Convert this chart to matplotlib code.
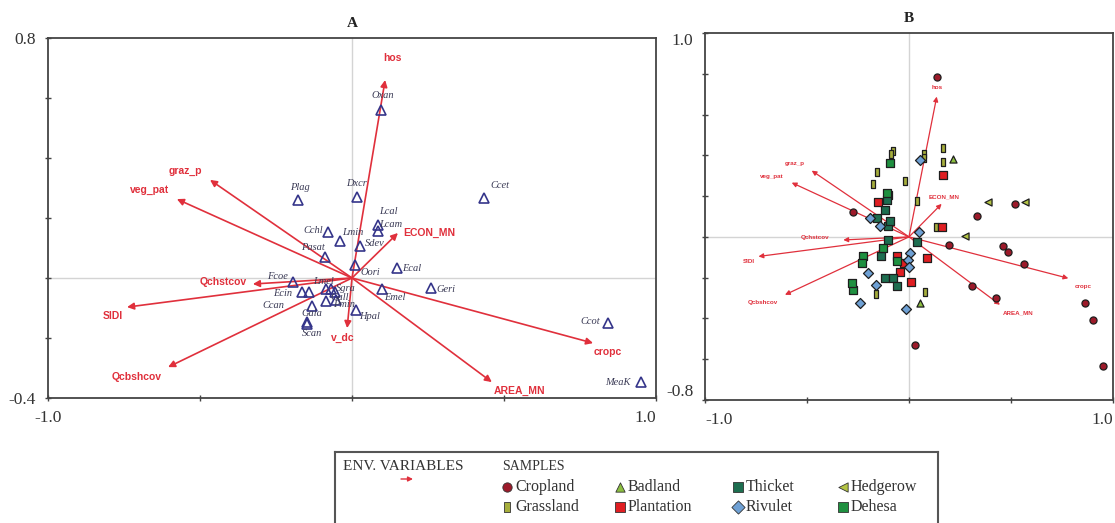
import matplotlib
matplotlib.use('Agg')
import matplotlib.pyplot as plt
from matplotlib.ticker import FixedLocator, FixedFormatter

# ---------------- Panel A data ----------------
envA_names = ['hos', 'graz_p', 'veg_pat', 'ECON_MN', 'Qchstcov', 'SIDI', 'Qcbshcov', 'cropc', 'AREA_MN', 'v_dc']
envA_x = [0.109, -0.467, -0.576, 0.151, -0.326, -0.740, -0.605, 0.793, 0.460, -0.016]
envA_y = [0.660, 0.327, 0.263, 0.150, -0.020, -0.097, -0.297, -0.217, -0.347, -0.167]

spA_names = ['Oxan', 'Dxcr', 'Plag', 'Ccet', 'Lcal', 'Lcam', 'Cchl', 'Lmin', 'Sdev', 'Pasat',
             'Ecal', 'Oori', 'Geri', 'Emel', 'Fcoe', 'Ecin', '', 'Lmel', 'Sgra', '',
             'Gall', 'Pmin', 'Hpal', 'Ccan', 'Gala', 'Scan', 'Ccot', 'MeaK']
spA_x = [0.095, 0.016, -0.178, 0.434, 0.086, 0.086, -0.079, -0.039, 0.026, -0.089,
         0.148, 0.010, 0.260, 0.099, -0.194, -0.164, -0.141, -0.086, -0.069, -0.056,
         -0.086, -0.053, 0.013, -0.132, -0.148, -0.148, 0.842, 0.951]
spA_y = [0.560, 0.270, 0.260, 0.267, 0.177, 0.157, 0.153, 0.123, 0.107, 0.070,
         0.033, 0.043, -0.033, -0.037, -0.013, -0.047, -0.047, -0.037, -0.037, -0.047,
         -0.077, -0.073, -0.107, -0.093, -0.147, -0.153, -0.150, -0.347]

# ---------------- Panel B data ----------------
envB_names = ['hos', 'graz_p', 'veg_pat', 'ECON_MN', 'Qchstcov', 'SIDI', 'Qcbshcov', 'cropc', 'AREA_MN']
envB_x = [0.136, -0.477, -0.575, 0.160, -0.322, -0.738, -0.608, 0.781, 0.446]
envB_y = [0.688, 0.325, 0.266, 0.162, -0.015, -0.096, -0.284, -0.203, -0.333]

crop_x = [0.136, 0.332, 0.520, 0.198, 0.459, 0.487, 0.565, 0.307, 0.426, 0.863, 0.900, 0.952, 0.029, -0.276]
crop_y = [0.783, 0.103, 0.162, -0.042, -0.043, -0.072, -0.134, -0.243, -0.301, -0.322, -0.410, -0.632, -0.529, 0.121]
grass_x = [-0.080, -0.089, 0.075, 0.075, 0.165, 0.165, -0.155, -0.178, -0.020, 0.041, 0.078, -0.162, 0.131]
grass_y = [0.423, 0.406, 0.406, 0.385, 0.435, 0.369, 0.320, 0.260, 0.275, 0.176, -0.268, -0.279, 0.047]
bad_x = [0.217, 0.054]
bad_y = [0.381, -0.325]
plant_x = [0.165, -0.150, 0.090, -0.044, 0.008, -0.060, 0.160, -0.025]
plant_y = [0.304, 0.173, -0.105, -0.170, -0.219, -0.096, 0.050, -0.130]
thick_x = [-0.101, -0.109, -0.118, -0.159, -0.101, -0.101, -0.093, 0.038, -0.139, -0.118, -0.080, -0.060]
thick_y = [0.206, 0.181, 0.132, 0.091, -0.015, 0.052, 0.076, -0.023, -0.096, -0.203, -0.203, -0.240]
riv_x = [0.054, -0.191, -0.142, 0.051, 0.005, -0.003, -0.200, -0.162, -0.240, -0.015, 0.000]
riv_y = [0.377, 0.091, 0.054, 0.026, -0.080, -0.113, -0.178, -0.235, -0.325, -0.355, -0.150]
hedge_x = [0.389, 0.570, 0.275]
hedge_y = [0.173, 0.173, 0.005]
deh_x = [-0.093, -0.276, -0.281, -0.224, -0.232, -0.127, -0.110, -0.060]
deh_y = [0.364, -0.260, -0.225, -0.096, -0.130, -0.055, 0.215, -0.120]

sample_labels = ['Cropland', 'Grassland', 'Badland', 'Plantation', 'Thicket', 'Rivulet', 'Hedgerow', 'Dehesa']

# ---------------- styles ----------------
RED = '#e0303c'
NAVY = '#35358a'
SERIF = 'Liberation Serif'
SANS = 'Liberation Sans'
rect_marker = [(-0.7, -1), (0.7, -1), (0.7, 1), (-0.7, 1), (-0.7, -1)]
sample_style = {
    'Cropland': dict(marker='o', fc='#9c1a2a'),
    'Grassland': dict(marker=rect_marker, fc='#a6ae3c'),
    'Badland': dict(marker='^', fc='#8cbf40'),
    'Plantation': dict(marker='s', fc='#e01e22'),
    'Thicket': dict(marker='s', fc='#1d6e50'),
    'Rivulet': dict(marker='D', fc='#6ea0d4'),
    'Hedgerow': dict(marker='<', fc='#b4c444'),
    'Dehesa': dict(marker='s', fc='#1f9040'),
}

labA_off = {'hos': (7, 22, 'center'), 'graz_p': (-25, 9, 'center'), 'veg_pat': (-27, 9, 'center'),
            'ECON_MN': (5, 0, 'left'), 'Qchstcov': (-6, 2, 'right'), 'SIDI': (-14, -9, 'center'),
            'Qcbshcov': (-31, -10, 'center'), 'cropc': (15, -9, 'center'), 'AREA_MN': (28, -9, 'center'),
            'v_dc': (-4, -10, 'center')}
spA_off = {'Oxan': (2, 14), 'Dxcr': (0, 13), 'Plag': (2, 13), 'Ccet': (16, 12), 'Lcal': (10, 13),
           'Lcam': (13, 6), 'Cchl': (-15, 2), 'Lmin': (13, 9), 'Sdev': (15, 2), 'Pasat': (-12, 9),
           'Ecal': (15, 0), 'Oori': (15, -7), 'Geri': (15, -2), 'Emel': (13, -8), 'Fcoe': (-16, 5),
           'Ecin': (-19, -1), 'Lmel': (-2, 8), 'Sgra': (15, 1), 'Gall': (14, 4), 'Pmin': (8, -5),
           'Hpal': (14, -6), 'Ccan': (-38, 0), 'Gala': (5, 9), 'Scan': (5, -10), 'Ccot': (-18, 1),
           'MeaK': (-23, 0)}
labB_off = {'hos': (0, 9, 'center'), 'graz_p': (-17, 7, 'center'), 'veg_pat': (-20, 6, 'center'),
            'ECON_MN': (2, 7, 'center'), 'Qchstcov': (-28, 2, 'center'), 'SIDI': (-10, -5, 'center'),
            'Qcbshcov': (-22, -8, 'center'), 'cropc': (15, -8, 'center'), 'AREA_MN': (18, -8, 'center')}

W, H = 1115, 523
fig = plt.figure(figsize=(W / 100, H / 100), dpi=100)
fig.patch.set_facecolor('white')


def px_axes(l, t, r, b):
    return fig.add_axes([l / W, 1 - b / H, (r - l) / W, (b - t) / H])


def style_axes(ax, xlim, ylim, yticks, ylabels):
    ax.set_xlim(*xlim)
    ax.set_ylim(*ylim)
    for s in ax.spines.values():
        s.set_color('#444444')
        s.set_linewidth(1.3)
    ax.axhline(0, color='#d4d4d4', lw=1.0, zorder=0)
    ax.axvline(0, color='#d4d4d4', lw=1.0, zorder=0)
    ax.xaxis.set_major_locator(FixedLocator([-1.0, -0.5, 0.0, 0.5, 1.0]))
    ax.xaxis.set_major_formatter(FixedFormatter(['-1.0', '', '', '', '1.0']))
    ax.yaxis.set_major_locator(FixedLocator(yticks))
    ax.yaxis.set_major_formatter(FixedFormatter(ylabels))
    ax.tick_params(direction='inout', length=5, width=1.0, color='#444444',
                   labelsize=12.5, labelcolor='#333333', pad=6)
    for lab in ax.get_xticklabels() + ax.get_yticklabels():
        lab.set_fontfamily(SERIF)
    return ax


def draw_arrows(ax, names, xs, ys, offs, lw, ms, fs):
    for n, x, y in zip(names, xs, ys):
        ax.annotate('', xy=(x, y), xytext=(0, 0),
                    arrowprops=dict(arrowstyle='-|>', color=RED, lw=lw, mutation_scale=ms,
                                    shrinkA=0, shrinkB=0), zorder=3)
        dx, dy, ha = offs[n]
        ax.annotate(n, xy=(x, y), xytext=(dx, dy), textcoords='offset pixels',
                    ha=ha, va='center', color=RED, fontsize=fs, fontweight='bold',
                    fontfamily=SANS, zorder=4)


# ---------------- Panel A ----------------
axA = px_axes(48, 38, 656, 398)
style_axes(axA, (-1.0, 1.0), (-0.4, 0.8), [-0.4, -0.2, 0.0, 0.2, 0.4, 0.6, 0.8],
           ['-0.4', '', '', '', '', '', '0.8'])
axA.get_xticklabels()[-1].set_ha('right')
axA.set_title('A', fontsize=11, fontweight='bold', fontfamily=SERIF, pad=8, color='#222222')
draw_arrows(axA, envA_names, envA_x, envA_y, labA_off, 1.2, 10, 7.5)
axA.plot(spA_x, spA_y, linestyle='none', marker='^', ms=6.5, mfc='none', mec=NAVY, mew=1.2, zorder=5)
for n, x, y in zip(spA_names, spA_x, spA_y):
    if n:
        dx, dy = spA_off[n]
        axA.annotate(n, xy=(x, y), xytext=(dx, dy), textcoords='offset pixels',
                     ha='center', va='center', fontsize=7.5, fontstyle='italic',
                     fontfamily=SERIF, color='#3a3a55', zorder=6)

# ---------------- Panel B ----------------
axB = px_axes(705, 33, 1113, 400)
style_axes(axB, (-1.0, 1.0), (-0.8, 1.0), [-0.8, -0.6, -0.4, -0.2, 0.0, 0.2, 0.4, 0.6, 0.8, 1.0],
           ['-0.8', '', '', '', '', '', '', '', '', '1.0'])
xl = axB.get_xticklabels()
xl[0].set_ha('left')
xl[-1].set_ha('right')
yl = axB.get_yticklabels()
yl[0].set_va('bottom')
yl[-1].set_va('top')
axB.set_title('B', fontsize=11, fontweight='bold', fontfamily=SERIF, pad=8, color='#222222')
draw_arrows(axB, envB_names, envB_x, envB_y, labB_off, 0.9, 7, 4.5)

groups = [('Cropland', crop_x, crop_y), ('Grassland', grass_x, grass_y), ('Badland', bad_x, bad_y),
          ('Plantation', plant_x, plant_y), ('Thicket', thick_x, thick_y), ('Rivulet', riv_x, riv_y),
          ('Hedgerow', hedge_x, hedge_y), ('Dehesa', deh_x, deh_y)]
for name, xs, ys in groups:
    st = sample_style[name]
    axB.scatter(xs, ys, marker=st['marker'], s=26, c=st['fc'], edgecolors='#1e1e1e',
                linewidths=0.9, zorder=5)

# ---------------- Legend box ----------------
lax = px_axes(335, 452, 938, 560)
lax.set_xlim(335, 938)
lax.set_ylim(560, 452)
lax.set_xticks([])
lax.set_yticks([])
for k, s in lax.spines.items():
    s.set_color('#555555')
    s.set_linewidth(1.5)
lax.spines['bottom'].set_visible(False)
lax.text(343, 466, 'ENV. VARIABLES', fontsize=11, fontfamily=SERIF, color='#333333', va='center')
lax.annotate('', xy=(413, 479), xytext=(401, 479),
             arrowprops=dict(arrowstyle='-|>', color=RED, lw=1.0, mutation_scale=7, shrinkA=0, shrinkB=0))
lax.text(502, 466, 'SAMPLES', fontsize=10, fontfamily=SERIF, color='#333333', va='center')
col_x = [507, 620, 738, 843]
row_y = [487, 507]
for i, name in enumerate(sample_labels):
    cx = col_x[i // 2]
    cy = row_y[i % 2]
    st = sample_style[name]
    lax.scatter([cx], [cy], marker=st['marker'], s=45, c=st['fc'], edgecolors='#333333',
                linewidths=0.6, clip_on=False)
    lax.text(cx + 8, cy, name, fontsize=11.5, fontfamily=SERIF, color='#333333', va='center')

fig.savefig('out.png', dpi=100, facecolor='white')
